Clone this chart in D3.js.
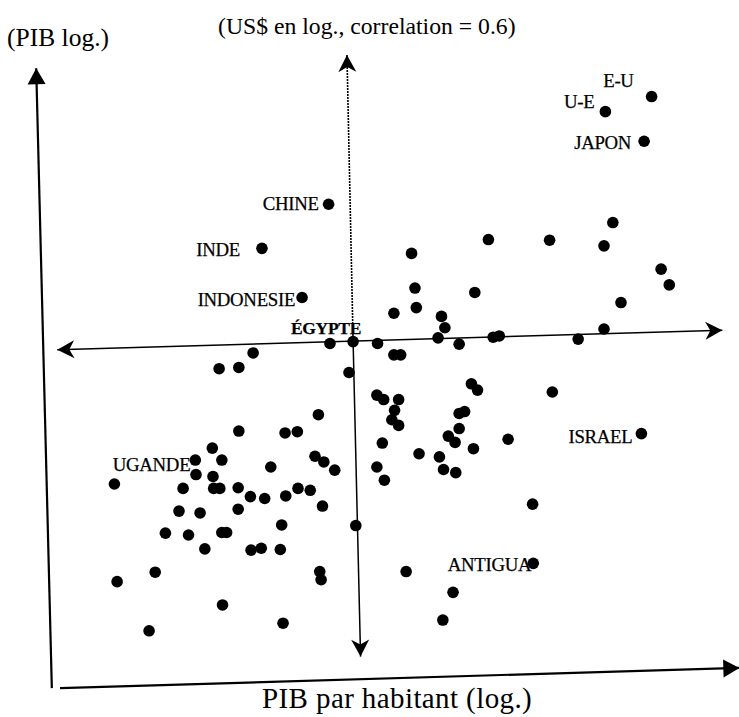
<!DOCTYPE html>
<html>
<head>
<meta charset="utf-8">
<script src="https://cdn.jsdelivr.net/npm/d3@7"></script>
<style>
  body { margin: 0; background: #fff; }
  text { font-family: "Liberation Serif", "Times New Roman", serif; fill: #000; }
</style>
</head>
<body>
<svg width="739" height="717"></svg>
<script>
// pays nommés (log PIB par habitant, log PIB)
var names = ["E-U", "U-E", "JAPON", "CHINE", "INDE", "INDONESIE", "ÉGYPTE", "UGANDE", "ISRAEL", "ANTIGUA"];
var namedX = [8.70, 8.02, 8.59, 3.95, 2.97, 3.56, 4.31, 1.99, 8.55, 6.96];
var namedY = [9.42, 9.18, 8.71, 7.71, 7.01, 6.23, 5.53, 3.65, 4.07, 2.01];

// autres pays
var otherX = [8.13, 7.20, 8.00, 6.30, 5.17, 8.84, 8.96, 8.25, 5.22, 6.10, 5.24, 4.91, 5.61, 5.66, 8.00,
  6.46, 6.37, 5.56, 5.87, 7.62, 3.97, 4.67, 4.91, 5.01, 2.84, 2.34, 2.63, 4.25, 6.05, 6.14,
  7.24, 4.66, 4.76, 4.98, 4.92, 4.88, 4.98, 4.74, 4.66, 4.77, 5.28, 5.58, 5.64, 5.82, 5.71,
  5.81, 5.87, 5.87, 5.95, 6.08, 6.59, 6.95, 3.80, 3.31, 3.49, 3.75, 3.88, 4.04, 3.50, 3.68,
  3.32, 3.86, 3.26, 4.35, 2.63, 2.24, 2.38, 3.10, 2.00, 2.25, 0.80, 1.81, 2.26, 2.35, 2.62,
  2.80, 3.01, 1.75, 2.06, 2.62, 1.55, 1.89, 2.38, 2.45, 2.13, 2.81, 2.96, 3.24, 1.40, 0.84,
  3.82, 3.84, 2.39, 1.31, 3.28, 5.09, 5.78, 5.63];
var otherY = [7.42, 7.14, 7.05, 7.15, 6.93, 6.68, 6.43, 6.15, 6.38, 6.31, 6.07, 5.98, 5.93, 5.75, 5.73,
  5.62, 5.60, 5.59, 5.49, 5.57, 5.50, 5.50, 5.32, 5.32, 5.35, 5.10, 5.12, 5.04, 4.86, 4.76,
  4.73, 4.68, 4.61, 4.61, 4.44, 4.29, 4.20, 3.92, 3.54, 3.33, 3.75, 3.70, 3.50, 3.45, 4.03,
  3.93, 4.15, 4.39, 4.42, 3.83, 3.98, 2.95, 4.37, 4.08, 4.10, 3.71, 3.62, 3.49, 3.20, 3.17,
  3.08, 2.92, 2.62, 2.61, 4.11, 3.84, 3.65, 3.54, 3.42, 3.39, 3.27, 3.20, 3.20, 3.20, 3.21,
  3.07, 3.04, 2.84, 2.81, 2.87, 2.49, 2.46, 2.50, 2.50, 2.24, 2.22, 2.25, 2.23, 1.87, 1.72,
  1.88, 1.75, 1.35, 0.94, 1.06, 1.88, 1.55, 1.11];

var titleTop = "(US$ en log., correlation = 0.6)";
var titleY = "(PIB log.)";
var titleX = "PIB par habitant (log.)";

var svg = d3.select("svg"),
    width = +svg.attr("width"),
    height = +svg.attr("height");

svg.append("rect").attr("width", width).attr("height", height).attr("fill", "#fff");

var x = d3.scaleLinear().domain([0, 10]).range([60, 740]);
var y = d3.scaleLinear().domain([0, 10]).range([690, 60]);

// placement des étiquettes (décalage en px par rapport au point, ancre à droite)
var labelPos = {
  "E-U": [-18, -10], "U-E": [-11, -4], "JAPON": [-13, 8], "CHINE": [-10, 6],
  "INDE": [-22, 8], "INDONESIE": [-7, 8], "ÉGYPTE": [8, -8], "UGANDE": [-5, 11],
  "ISRAEL": [-9, 9], "ANTIGUA": [-2, 8]
};

var defs = svg.append("defs");
defs.append("marker").attr("id", "tri")
    .attr("markerUnits", "userSpaceOnUse")
    .attr("viewBox", "-18 -10 20 20").attr("refX", 0).attr("refY", 0)
    .attr("markerWidth", 20).attr("markerHeight", 20)
    .attr("orient", "auto-start-reverse")
  .append("path").attr("d", "M0,0 L-16,-9 L-16,9 Z").attr("fill", "#000");
defs.append("marker").attr("id", "stealth")
    .attr("markerUnits", "userSpaceOnUse")
    .attr("viewBox", "-18 -10 20 20").attr("refX", 0).attr("refY", 0)
    .attr("markerWidth", 20).attr("markerHeight", 20)
    .attr("orient", "auto-start-reverse")
  .append("path").attr("d", "M0,0 L-17,-9 L-12,0 L-17,9 Z").attr("fill", "#000");

// axes (légèrement inclinés comme sur la copie)
svg.append("line")
    .attr("x1", x(-0.12)).attr("y1", y(0.03)).attr("x2", x(-0.35)).attr("y2", y(9.87))
    .attr("stroke", "#000").attr("stroke-width", 2.2).attr("marker-end", "url(#tri)");
svg.append("line")
    .attr("x1", x(0)).attr("y1", y(0.03)).attr("x2", x(9.99)).attr("y2", y(0.35))
    .attr("stroke", "#000").attr("stroke-width", 2.2).attr("marker-end", "url(#tri)");

// axes de moyennes
svg.append("line")
    .attr("x1", x(-0.04)).attr("y1", y(5.40)).attr("x2", x(9.74)).attr("y2", y(5.71))
    .attr("stroke", "#000").attr("stroke-width", 1.5)
    .attr("marker-start", "url(#stealth)").attr("marker-end", "url(#stealth)");
svg.append("line")
    .attr("x1", x(4.22)).attr("y1", y(10.08)).attr("x2", x(4.31)).attr("y2", y(5.55))
    .attr("stroke", "#000").attr("stroke-width", 1.6).attr("stroke-dasharray", "2,1")
    .attr("marker-start", "url(#stealth)");
svg.append("line")
    .attr("x1", x(4.31)).attr("y1", y(5.55)).attr("x2", x(4.42)).attr("y2", y(0.53))
    .attr("stroke", "#000").attr("stroke-width", 1.5)
    .attr("marker-end", "url(#stealth)");

// points
var allX = namedX.concat(otherX), allY = namedY.concat(otherY);
svg.append("g").selectAll("circle")
  .data(d3.range(allX.length))
  .enter().append("circle")
    .attr("cx", function(i) { return x(allX[i]); })
    .attr("cy", function(i) { return y(allY[i]); })
    .attr("r", 5.8)
    .attr("fill", "#000");

// étiquettes
svg.append("g").selectAll("text")
  .data(names)
  .enter().append("text")
    .attr("x", function(d, i) { return x(namedX[i]) + labelPos[d][0]; })
    .attr("y", function(d, i) { return y(namedY[i]) + labelPos[d][1]; })
    .attr("text-anchor", "end")
    .attr("font-size", d => d == "ÉGYPTE" ? 17.5 : 18.8)
    .attr("font-weight", d => d == "ÉGYPTE" ? "bold" : "normal")
    .attr("letter-spacing", -0.3)
    .attr("stroke", "#000").attr("stroke-width", 0.25)
    .text(d => d);

// titres
svg.append("text").attr("x", 218).attr("y", 34).attr("font-size", 23.7).text(titleTop);
svg.append("text").attr("x", 7).attr("y", 46).attr("font-size", 25.5).text(titleY);
svg.append("text").attr("x", 262).attr("y", 708).attr("font-size", 29).attr("letter-spacing", 0.4).text(titleX);
</script>
</body>
</html>
